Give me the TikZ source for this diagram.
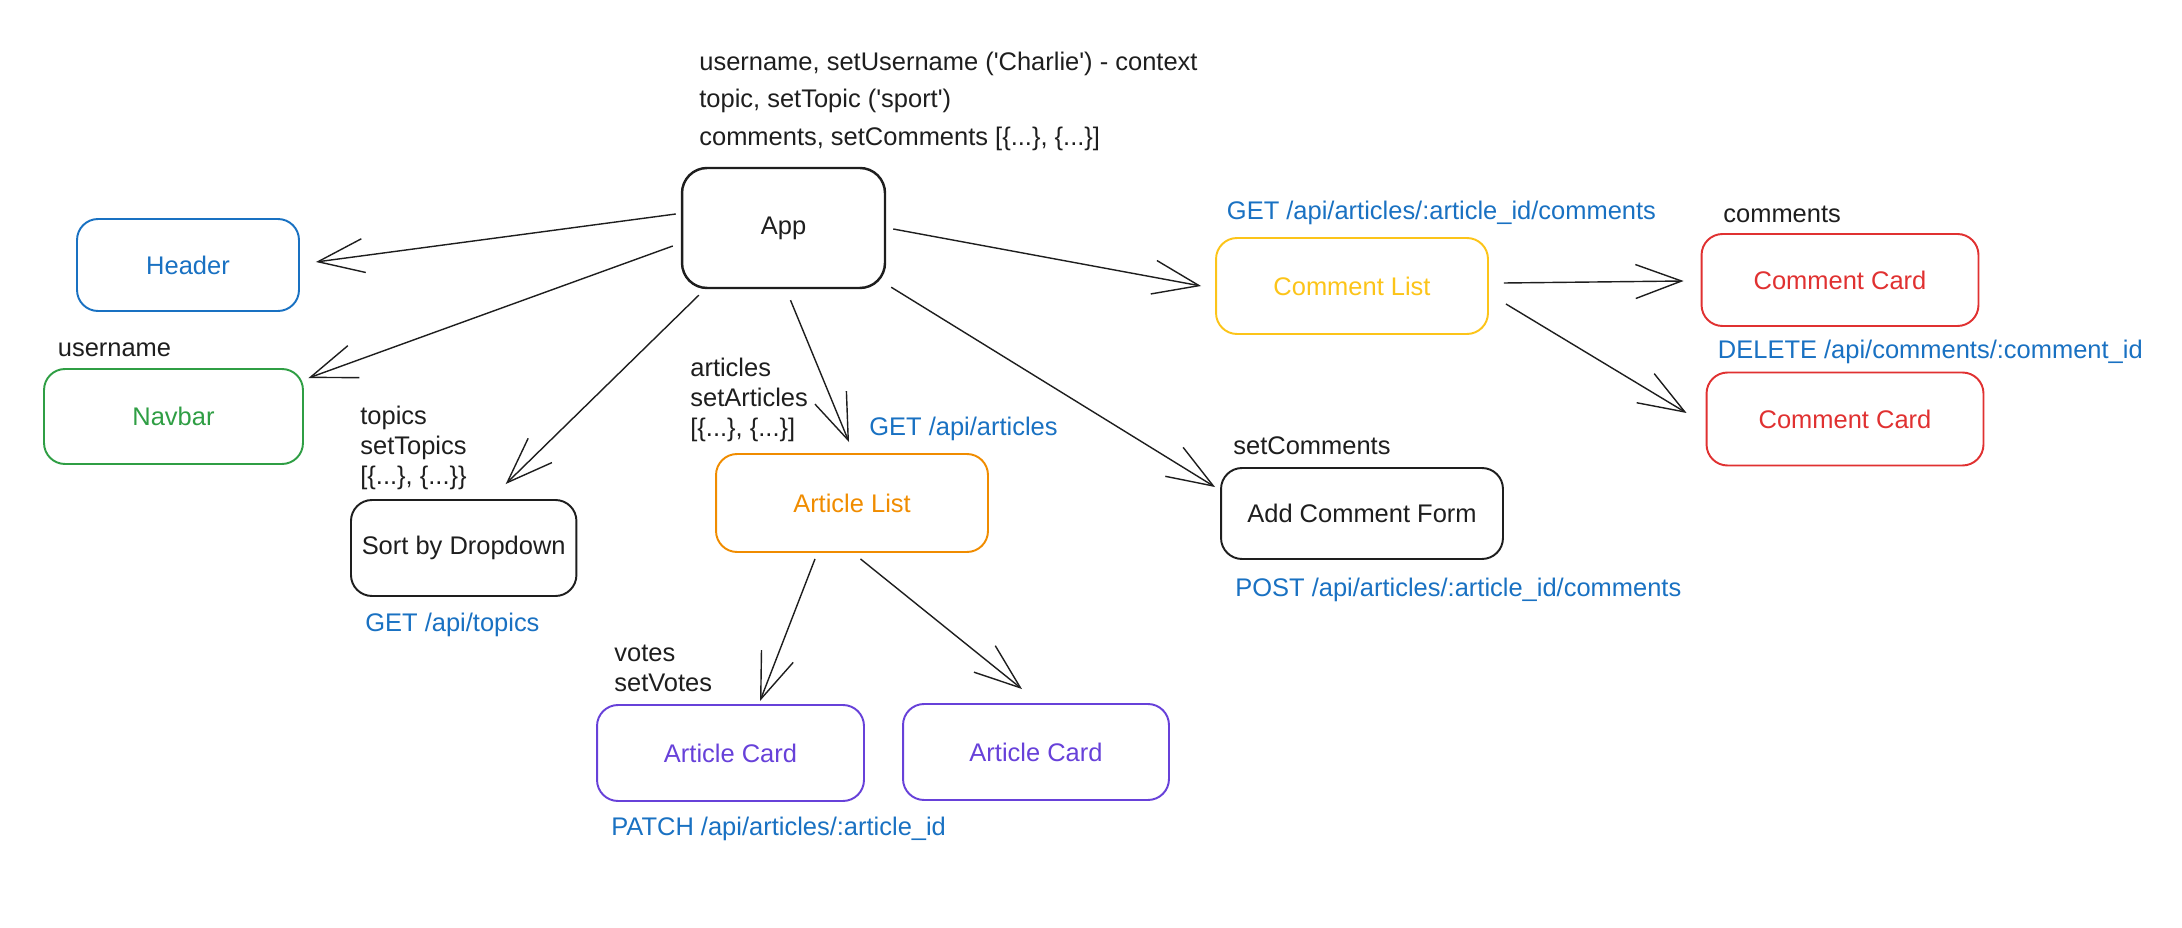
\documentclass[tikz,border=0pt]{standalone}
\usepackage{fontspec}
\setmainfont{Liberation Sans}
\usetikzlibrary{calc}
\usetikzlibrary{positioning}
\usetikzlibrary{arrows.meta}
\definecolor{ink}{HTML}{1E1E1E}
\definecolor{blue2}{HTML}{1971C2}
\definecolor{green2}{HTML}{2F9E44}
\definecolor{orange2}{HTML}{F08C00}
\definecolor{violet2}{HTML}{6741D9}
\definecolor{yellow2}{HTML}{FCC419}
\definecolor{red2}{HTML}{E03131}
\tikzset{
every node/.style={font=\fontsize{14.5}{17}\selectfont},
comp/.style={draw=#1, text=#1, rounded corners=0.42cm, line width=1.1pt},
note/.style={inner sep=0pt, anchor=west, align=left, text=ink},
api/.style={note, text=blue2},
}
\def\q{\textquotesingle}

\begin{document}
\begin{tikzpicture}[x=0.02cm, y=-0.02cm]
\tikzstyle{link}=[ink, line width=0.8pt, -{Straight Barb[length=0.92cm, width=0.68cm]}]
\useasboundingbox (0,0) rectangle (2182,928);
%Place the nodes
\node[comp=ink, line width=1.4pt, rounded corners=0.5cm, minimum width=4.06cm, minimum height=2.4cm] (app) at (783.5,228) {App};
\node[comp=blue2, minimum width=4.44cm, minimum height=1.84cm] (header) at (188,265) {Header};
\node[comp=green2, minimum width=5.18cm, minimum height=1.9cm] (navbar) at (173.5,416.5) {Navbar};
\node[comp=ink, minimum width=4.51cm, minimum height=1.92cm] (sort) at (463.7,548) {Sort by Dropdown};
\node[comp=orange2, minimum width=5.44cm, minimum height=1.96cm] (alist) at (852,503) {Article List};
\node[comp=violet2, minimum width=5.34cm, minimum height=1.92cm] (acard1) at (730.5,753) {Article Card};
\node[comp=violet2, minimum width=5.32cm, minimum height=1.92cm] (acard2) at (1036,752) {Article Card};
\node[comp=yellow2, minimum width=5.44cm, minimum height=1.92cm] (clist) at (1352,286) {Comment List};
\node[comp=red2, minimum width=5.54cm, minimum height=1.84cm] (ccard1) at (1840,280) {Comment Card};
\node[comp=red2, minimum width=5.54cm, minimum height=1.86cm] (ccard2) at (1845,419) {Comment Card};
\node[comp=ink, minimum width=5.64cm, minimum height=1.82cm] (form) at (1362,513.5) {Add Comment Form};

%State and requests
\node[note, font=\fontsize{14.5}{21.3}\selectfont] (state) at (699,101) {username, setUsername (\q Charlie\q) - context\\topic, setTopic (\q sport\q)\\comments, setComments [\{...\}, \{...\}]};
\node[note] (user) at (57.5,350) {username};
\node[note] (topics) at (360,448) {topics\\setTopics\\{[}\{...\}, \{...\}\}};
\node[api] (gettopics) at (365,625) {GET /api/topics};
\node[note] (articles) at (690,400) {articles\\setArticles\\{[}\{...\}, \{...\}]};
\node[api] (getarticles) at (869,429) {GET /api/articles};
\node[note] (votes) at (614,668.5) {votes\\setVotes};
\node[api] (patch) at (611,829) {PATCH /api/articles/:article\_id};
\node[api] (getcomments) at (1226.6,213) {GET /api/articles/:article\_id/comments};
\node[note] (comments) at (1723,214) {comments};
\node[api] (delete) at (1717.6,352) {DELETE /api/comments/:comment\_id};
\node[note] (setcomments) at (1233,446) {setComments};
\node[api] (post) at (1235,590) {POST /api/articles/:article\_id/comments};

%
\draw[link] ($(app.west)+(-5,-14)$) -- ($(header.east)+(16,-3)$);
\draw[link] ($(app.west)+(-8,18)$) -- ($(navbar.north east)+(4.5,10)$);
\draw[link] ($(app.south west)+(18,6)$) -- ($(sort.north)+(42,-15)$);
\draw[link] ($(app.south)+(7,11)$) -- ($(alist.north)+(-3,-11)$);
\draw[link] ($(app.south east)+(5,-2)$) -- ($(form.north west)+(-5,20)$);
\draw[link] ($(app.east)+(7,1)$) -- ($(clist.west)+(-14,0)$);

%
\draw[link] ($(clist.east)+(15,-3)$) -- ($(ccard1.west)+(-17,1)$);
\draw[link] ($(clist.east)+(17,18)$) -- ($(ccard2.west)+(-19,-6)$);

%
\draw[link] ($(alist.south)+(-37,6)$) -- ($(acard1.north)+(29.5,-3)$);
\draw[link] ($(alist.south)+(8.5,6)$) -- ($(acard2.north)+(-14,-14)$);

\end{tikzpicture}
\end{document}
